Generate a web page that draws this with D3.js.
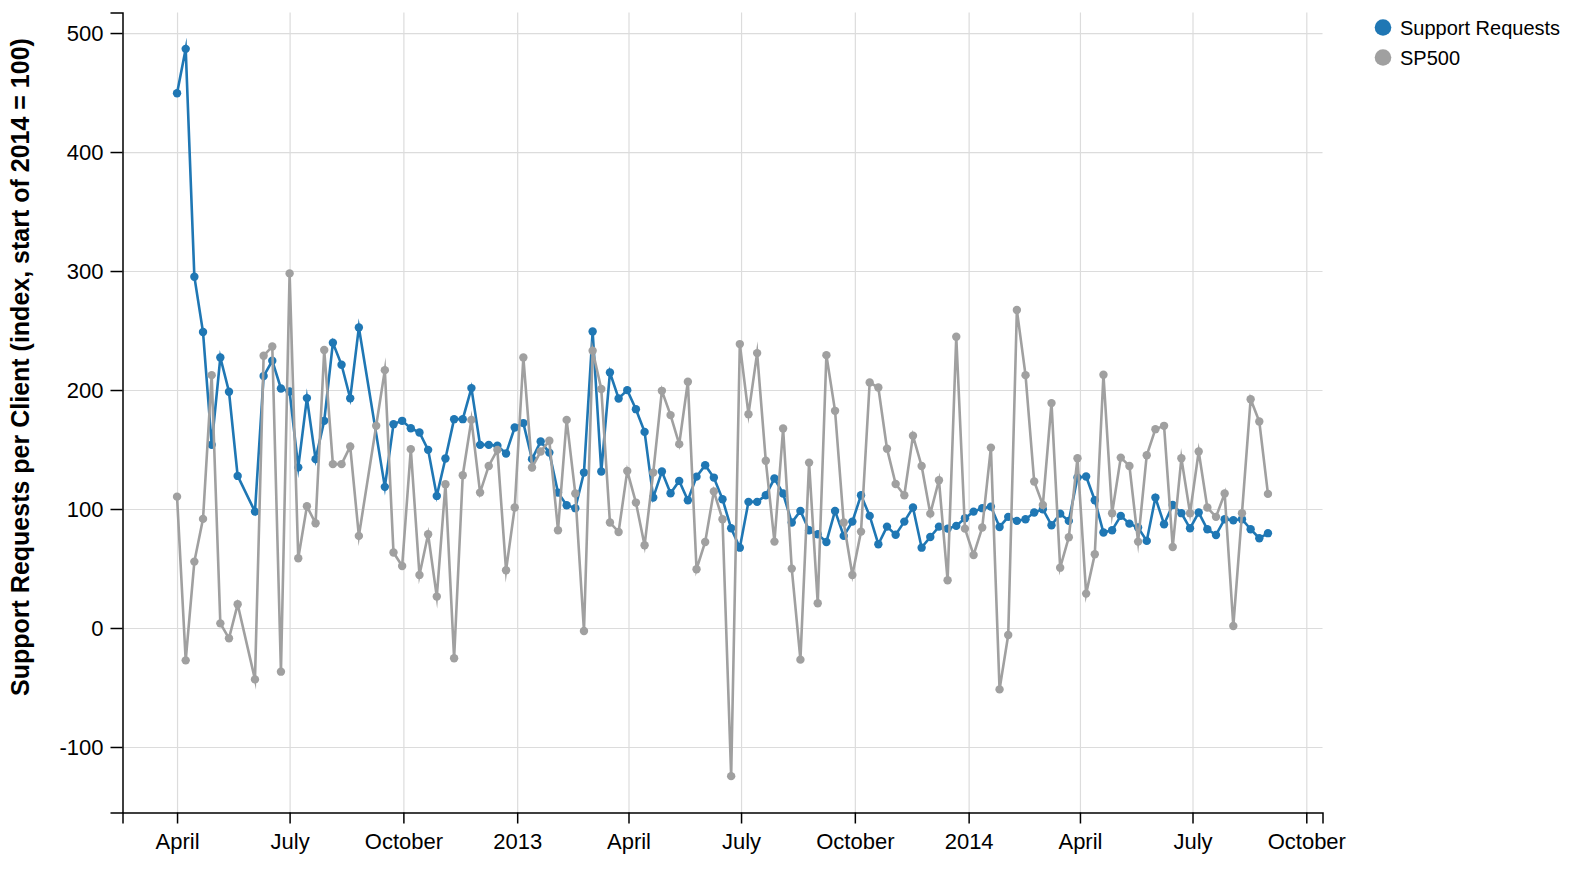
<!DOCTYPE html>
<html>
<head>
<meta charset="utf-8">
<script src="https://cdn.jsdelivr.net/npm/d3@7"></script>
<style>
  body { margin: 0; background: #fff; }
  svg { display: block; font-family: "Liberation Sans", Arial, Helvetica, sans-serif; }
  .grid line { stroke: #dcdcdc; stroke-width: 1.2; }
  .grid path { display: none; }
  .axis path, .axis line { stroke: #000; stroke-width: 1.5; }
  .axis text { font-size: 22px; fill: #000; }
</style>
</head>
<body>
<svg id="chart" width="1580" height="870"></svg>
<script>
// ---- data (weekly, Sundays) ----
const weeks = [
  "2012-04-01","2012-04-08","2012-04-15","2012-04-22","2012-04-29","2012-05-06","2012-05-13","2012-05-20","2012-05-27",
  "2012-06-03","2012-06-10","2012-06-17","2012-06-24","2012-07-01","2012-07-08","2012-07-15","2012-07-22","2012-07-29",
  "2012-08-05","2012-08-12","2012-08-19","2012-08-26","2012-09-02","2012-09-09","2012-09-16","2012-09-23","2012-09-30",
  "2012-10-07","2012-10-14","2012-10-21","2012-10-28","2012-11-04","2012-11-11","2012-11-18","2012-11-25","2012-12-02",
  "2012-12-09","2012-12-16","2012-12-23","2012-12-30","2013-01-06","2013-01-13","2013-01-20","2013-01-27","2013-02-03",
  "2013-02-10","2013-02-17","2013-02-24","2013-03-03","2013-03-10","2013-03-17","2013-03-24","2013-03-31","2013-04-07",
  "2013-04-14","2013-04-21","2013-04-28","2013-05-05","2013-05-12","2013-05-19","2013-05-26","2013-06-02","2013-06-09",
  "2013-06-16","2013-06-23","2013-06-30","2013-07-07","2013-07-14","2013-07-21","2013-07-28","2013-08-04","2013-08-11",
  "2013-08-18","2013-08-25","2013-09-01","2013-09-08","2013-09-15","2013-09-22","2013-09-29","2013-10-06","2013-10-13",
  "2013-10-20","2013-10-27","2013-11-03","2013-11-10","2013-11-17","2013-11-24","2013-12-01","2013-12-08","2013-12-15",
  "2013-12-22","2013-12-29","2014-01-05","2014-01-12","2014-01-19","2014-01-26","2014-02-02","2014-02-09","2014-02-16",
  "2014-02-23","2014-03-02","2014-03-09","2014-03-16","2014-03-23","2014-03-30","2014-04-06","2014-04-13","2014-04-20",
  "2014-04-27","2014-05-04","2014-05-11","2014-05-18","2014-05-25","2014-06-01","2014-06-08","2014-06-15","2014-06-22",
  "2014-06-29","2014-07-06","2014-07-13","2014-07-20","2014-07-27","2014-08-03","2014-08-10","2014-08-17","2014-08-24",
  "2014-08-31"
];
const supportRequests = [
  449.4,486.7,295.2,248.7,154,227.3,198.5,127.8,null,
  97.8,211.7,224.6,201.3,198.8,135,193.2,141.9,174.1,
  239.7,221.2,193,252.6,null,null,118.6,171.3,174.1,
  167.9,164.3,149.7,111,142.4,175.5,175.5,201.6,153.9,
  153.9,153.1,146.6,168.5,172.2,141.9,156.7,147.4,113.8,
  103.2,100.7,130.6,249.2,131.5,214.7,192.9,199.9,183.9,
  164.8,109.6,131.5,113.3,123.6,107.4,127.2,136.8,126.4,
  108.2,83.8,67.5,106,106,111.6,125.6,113,88.6,
  98.4,82.2,78.8,72.3,98.4,77.4,89.4,111.6,94.2,
  70.4,85.2,78.4,89.4,101.2,67.5,76.5,85.2,83.5,
  85.8,92.3,97.8,100.7,102,84.9,93.4,90,91.4,
  97,99.8,86.4,96.1,90,126.4,127.3,107.4,80.2,
  82.2,94.2,87.7,84.4,73.2,109.6,87.2,103.4,96.5,
  83.8,97,83,78.2,91.4,90.6,91.4,83,75.4,
  79.7
];
const sp500 = [
  110.4,-27.2,55.8,91.7,212.5,3.9,-8.7,19.9,null,
  -43.2,228.8,236.6,-36.7,298,58.6,102.3,88,233.6,
  137.7,137.7,152.5,77.4,null,169.9,216.7,63.4,52.1,
  150.3,44.6,78.8,26.4,120.8,-25.4,128.4,174.9,113.8,
  136.2,149.7,48.5,101.2,227.3,134.9,148.3,157.3,82.2,
  174.9,113,-2.5,233,200.8,88.6,80.7,132,105.4,
  69.5,130.6,199.3,178.9,154.5,206.9,49.4,72.3,114.8,
  91.4,-124.5,238.6,179.7,231,140.5,72.6,167.6,49.9,
  -26.6,139,20.8,229.3,182.5,88.6,44.6,81,206.3,
  202.1,150.7,121,111.6,161.5,136.2,96.1,124.2,40.1,
  244.7,83.5,61.4,84.4,151.6,-51.6,-5.9,267.2,212.5,
  123.1,103.4,189,50.7,76.2,142.7,28.9,62,212.8,
  96.5,143.2,136.2,72.6,145.2,167.1,169.9,68.1,142.7,
  96.5,148.3,101.2,93.4,113,1.7,96.5,192.3,173.5,
  112.7
];
const seriesNames = ["Support Requests", "SP500"];
const seriesColors = ["#1f77b4", "#a0a0a0"];
const yTicks = [-100, 0, 100, 200, 300, 400, 500];
const yTitle = "Support Requests per Client (index, start of 2014 = 100)";

// ---- layout ----
const margin = { left: 122.5, top: 12.5 };
const width = 1200, height = 800;
const parse = d3.timeParse("%Y-%m-%d");
const dates = weeks.map(parse);

const series = [supportRequests, sp500].map((vals, k) => ({
  name: seriesNames[k],
  color: seriesColors[k],
  points: vals.map((v, i) => ({ date: dates[i], value: v })).filter(p => p.value !== null)
}));

const allVals = series.flatMap(s => s.points.map(p => p.value));
const [vMin, vMax] = d3.extent(allVals);
const vPad = (vMax - vMin) * 0.05;
const [dMin, dMax] = d3.extent(dates);
const dPad = (dMax - dMin) * 0.05;

const x = d3.scaleTime()
  .domain([new Date(+dMin - dPad), new Date(+dMax + dPad)])
  .range([0, width]);
const y = d3.scaleLinear()
  .domain([vMin - vPad, vMax + vPad])
  .range([height, 0]);

const svg = d3.select("#chart");
const g = svg.append("g").attr("transform", `translate(${margin.left},${margin.top})`);

const xTickVals = x.ticks(d3.timeMonth.every(3));

// grid
g.append("g").attr("class", "grid")
  .attr("transform", `translate(0,${height})`)
  .call(d3.axisBottom(x).tickValues(xTickVals).tickSize(-height).tickFormat(""));
g.append("g").attr("class", "grid")
  .call(d3.axisLeft(y).tickValues(yTicks).tickSize(-width).tickFormat(""));

// axes
g.append("g").attr("class", "axis")
  .attr("transform", `translate(0,${height})`)
  .call(d3.axisBottom(x).tickValues(xTickVals).tickSize(11).tickPadding(10));
g.append("g").attr("class", "axis")
  .call(d3.axisLeft(y).tickValues(yTicks).tickSize(12).tickPadding(7).tickFormat(d => String(d)));

// y title
svg.append("text")
  .attr("transform", `translate(29,367) rotate(-90)`)
  .attr("text-anchor", "middle")
  .style("font-size", "25px")
  .style("font-weight", "bold")
  .text(yTitle);

// lines & points
const line = d3.line().x(d => x(d.date)).y(d => y(d.value));
series.forEach(s => {
  g.append("path")
    .datum(s.points)
    .attr("fill", "none")
    .attr("stroke", s.color)
    .attr("stroke-width", 2.6)
    .attr("stroke-miterlimit", 10)
    .attr("d", line);
  g.append("g").selectAll("circle")
    .data(s.points)
    .join("circle")
    .attr("cx", d => x(d.date))
    .attr("cy", d => y(d.value))
    .attr("r", 4.2)
    .attr("fill", s.color);
});

// legend
const legend = svg.append("g").attr("transform", "translate(1383,27.5)");
series.forEach((s, k) => {
  const row = legend.append("g").attr("transform", `translate(0,${k * 30})`);
  row.append("circle").attr("r", 8.3).attr("fill", s.color);
  row.append("text").attr("x", 17).attr("dy", "0.35em")
    .style("font-size", "20px").text(s.name);
});
</script>
</body>
</html>
